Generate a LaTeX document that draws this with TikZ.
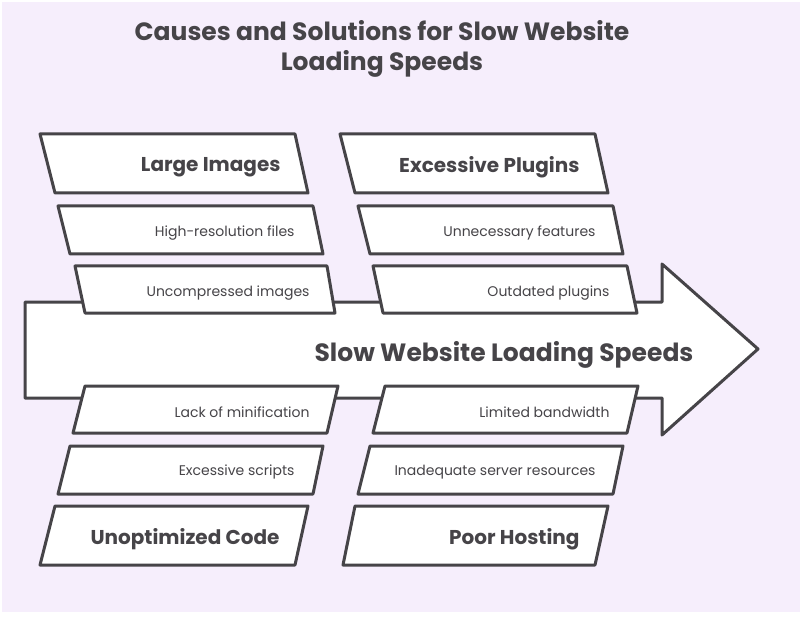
\documentclass[tikz,border=0pt]{standalone}
\usepackage{fontspec}
\setmainfont{Poppins}
\definecolor{bgpurple}{RGB}{246,238,252}
\definecolor{ink}{RGB}{70,68,72}

\begin{document}
\begin{tikzpicture}[x=1pt, y=-1pt, line width=3pt, line join=round]
		\useasboundingbox (0,0) rectangle (802,617);
		\fill[bgpurple] (2,2) rectangle (800,612);
		\node[ink, align=center, font=\fontsize{25}{30}\selectfont\bfseries] (title) at (382,49) {Causes and Solutions for Slow Website\\Loading Speeds};
		% main arrow
		\draw[ink, fill=white] (25,302) -- (662,302) -- (662,264) -- (758,349) -- (662,435) -- (662,398) -- (25,398) -- cycle;
		\node[ink, font=\fontsize{25}{28}\selectfont\bfseries] (spine) at (504,355) {Slow Website Loading Speeds};
		% causes
		\foreach \tl/\tr/\bl/\br/\ty/\by/\tx/\ly/\lbl [count=\i] in {40/295/55/308/134/193/282/167/Large Images, 340/595/355/608/134/193/581/167/Excessive Plugins, 55/308/40/295/506/565/281/539/Unoptimized Code, 355/608/343/595/506/565/581/539/Poor Hosting}{
			\draw[ink, fill=white] (\tl,\ty) -- (\tr,\ty) -- (\br,\by) -- (\bl,\by) -- cycle;
			\node[ink, anchor=east, inner sep=0pt, font=\fontsize{20}{23}\selectfont\bfseries] (cause\i) at (\tx,\ly) {\lbl};
		}
		% details
		\foreach \tl/\tr/\bl/\br/\ty/\by/\tx/\ly/\lbl [count=\i] in {58/313/70/323/206/254/296/233/High-resolution files, 75/327/85/335/266/313/311/293/Uncompressed images, 358/613/370/623/206/254/597/233/Unnecessary features, 373/627/383/637/266/313/611/293/Outdated plugins, 85/338/73/327/386/433/311/412/Lack of minification, 70/323/58/313/446/494/296/472/Excessive scripts, 385/638/373/627/386/433/611/412/Limited bandwidth, 370/623/358/613/446/494/597/472/Inadequate server resources}{
			\draw[ink, fill=white] (\tl,\ty) -- (\tr,\ty) -- (\br,\by) -- (\bl,\by) -- cycle;
			\node[ink, anchor=east, inner sep=0pt, font=\fontsize{14}{17}\selectfont] (detail\i) at (\tx,\ly) {\lbl};
			%\draw[gray] (\tl,\ty)--(\br,\by);
		}
	\end{tikzpicture}
\end{document}
